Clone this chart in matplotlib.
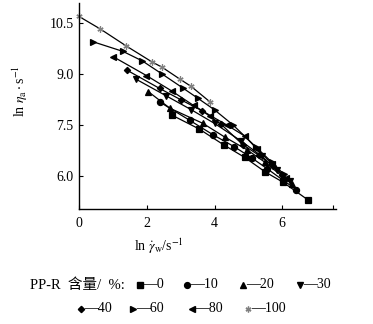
# coding: utf-8

# Flow curves of PP-R blends: ln(apparent viscosity) vs ln(wall shear rate)
import matplotlib.pyplot as plt
from matplotlib.lines import Line2D

plt.rcParams['font.family'] = ['Liberation Serif', 'Noto Sans CJK SC', 'DejaVu Sans']
plt.rcParams['mathtext.fontset'] = 'stix'

# PP-R content (%) and measured points (ln shear rate, ln viscosity)
x_0 = [2.75, 3.54, 4.27, 4.89, 5.50, 6.02, 6.77]
y_0 = [7.79, 7.39, 6.92, 6.55, 6.12, 5.82, 5.29]

x_10 = [2.40, 3.27, 3.95, 4.59, 5.12, 5.55, 6.02, 6.42]
y_10 = [8.17, 7.64, 7.22, 6.86, 6.52, 6.22, 5.88, 5.60]

x_20 = [2.04, 2.68, 3.66, 4.30, 4.95, 5.50, 6.05, 6.30]
y_20 = [8.49, 8.00, 7.55, 7.15, 6.78, 6.40, 5.95, 5.76]

x_30 = [1.67, 2.56, 3.32, 4.00, 4.79, 5.40, 5.85, 6.22]
y_30 = [8.86, 8.37, 7.95, 7.55, 7.03, 6.58, 6.17, 5.84]

x_40 = [1.43, 2.38, 3.02, 3.64, 4.20, 4.84, 5.30, 5.72, 6.00]
y_40 = [9.11, 8.58, 8.24, 7.92, 7.52, 6.92, 6.62, 6.30, 6.04]

x_60 = [0.40, 1.30, 1.87, 2.46, 3.07, 3.51, 4.00, 4.54, 5.23, 5.70, 6.05]
y_60 = [9.96, 9.67, 9.39, 9.00, 8.59, 8.29, 7.95, 7.51, 6.85, 6.40, 6.05]

x_80 = [1.00, 1.99, 2.73, 3.38, 3.88, 4.37, 4.89, 5.25, 5.70, 6.10]
y_80 = [9.52, 8.96, 8.51, 8.08, 7.78, 7.50, 7.18, 6.80, 6.36, 5.95]

x_100 = [0.00, 0.63, 1.38, 2.14, 2.46, 2.97, 3.31, 3.86]
y_100 = [10.70, 10.33, 9.84, 9.37, 9.20, 8.86, 8.64, 8.19]

series = [
    ('0', x_0, y_0, 's', 'black'),
    ('10', x_10, y_10, 'o', 'black'),
    ('20', x_20, y_20, '^', 'black'),
    ('30', x_30, y_30, 'v', 'black'),
    ('40', x_40, y_40, 'D', 'black'),
    ('60', x_60, y_60, '>', 'black'),
    ('80', x_80, y_80, '<', 'black'),
    ('100', x_100, y_100, (6, 2, 0), '#808080'),
]

y_ticks = [6.0, 7.5, 9.0, 10.5]
x_ticks = [0, 2, 4, 6]

fig = plt.figure(figsize=(3.73, 3.24), dpi=100)
ax = fig.add_axes([0.212, 0.355, 0.689, 0.636])

for name, xs, ys, mk, col in series:
    ms = 3.2 if mk == 'D' else 4.4
    ax.plot(xs, ys, color='black', lw=0.9, marker=mk, ms=ms,
            mfc=col, mec=col, mew=0.9, clip_on=False)

ax.set_xlim(0, 7.59)
ax.set_ylim(5.03, 11.1)
ax.set_xticks(x_ticks)
ax.set_xticks([7.5], minor=True)
ax.set_yticks(y_ticks)
ax.set_yticklabels([f'{v:.1f}' for v in y_ticks])
ax.tick_params(direction='in', length=3, width=0.8, labelsize=10, pad=4)
ax.tick_params(axis='x', pad=6)
ax.tick_params(which='minor', direction='in', length=3, width=0.8)
for s in ['top', 'right']:
    ax.spines[s].set_visible(False)
for s in ['left', 'bottom']:
    ax.spines[s].set_linewidth(1.0)

ax.set_xlabel(r'ln $\dot{\gamma}_{\rm w}$/s$^{-1}$', fontsize=10)
ax.xaxis.set_label_coords(0.31, -0.135)
ax.set_ylabel(r'ln $\eta_{\rm a}\cdot$s$^{-1}$', fontsize=10)
ax.yaxis.set_label_coords(-0.19, 0.57)

# legend drawn under the axes in two rows
W, H = 373.0, 324.0
fig.text(30 / W, 1 - 285 / H, 'PP-R  含量/  %:', fontsize=10.5, va='center', ha='left')
legend_pos = [
    ('0', 140, 285), ('10', 187, 285), ('20', 243, 285), ('30', 300, 285),
    ('40', 81, 309), ('60', 133, 309), ('80', 192, 309), ('100', 248, 309),
]
style = {name: (mk, col) for name, _, _, mk, col in series}
for name, px, py in legend_pos:
    mk, col = style[name]
    ms = 3.2 if mk == 'D' else 4.2
    fig.add_artist(Line2D([px / W], [1 - py / H], marker=mk, ms=ms, mfc=col,
                          mec=col, color='black', lw=0, transform=fig.transFigure))
    fig.text((px + 3) / W, 1 - py / H, '—' + name, fontsize=10, va='center', ha='left')

fig.savefig('out.png', dpi=100)
